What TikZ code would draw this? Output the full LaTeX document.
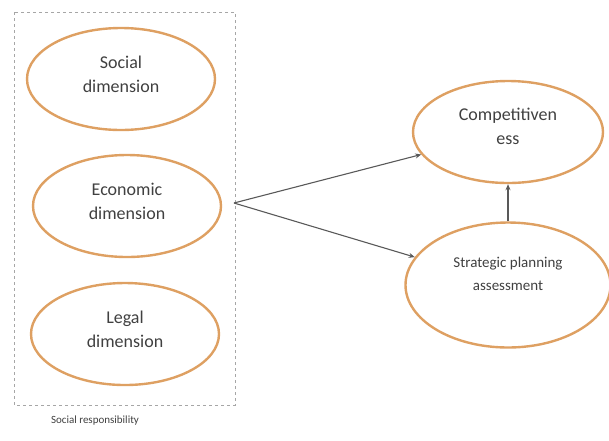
\documentclass[tikz,border=0pt]{standalone}
\usepackage{fontspec}
\setmainfont{Carlito}
\usepackage{tikz}
\usetikzlibrary{shapes.geometric,arrows.meta}

\definecolor{ovalline}{RGB}{222,160,98}
\definecolor{txtgray}{RGB}{64,64,64}

\begin{document}
\begin{tikzpicture}[x=1pt,y=-1pt,
    oval/.style={ellipse, draw=ovalline, line width=2.4pt, inner sep=0pt,
        minimum width=188pt, minimum height=102pt, align=center, text=txtgray,
        text depth=10pt, font=\fontsize{18}{24}\selectfont},
    link/.style={draw=black!65, line width=1.1pt, -{Stealth[length=6pt,width=5pt]}}]
            \useasboundingbox (0,0) rectangle (609,440);
            \draw[gray!70, dashed, line width=0.6pt] (14,12) rectangle (235,405);
            \node[oval] (social) at (121,79) {Social\\dimension};
            \node[oval] (economic) at (127,206) {Economic\\dimension};
            \node[oval] (legal) at (125,334) {Legal\\dimension};
            \node[text=txtgray, font=\fontsize{11}{13}\selectfont] (sr) at (95,421) {Social responsibility};
            \node[oval, minimum width=190pt, text depth=12pt] (comp) at (508,132) {Competitiven\\ess};
            \node[oval, minimum width=205pt, minimum height=125pt, text depth=22pt, font=\fontsize{15}{23}\selectfont] (strat) at (508,285) {Strategic planning\\assessment};
            \coordinate (src) at (234,203);
            \draw[link] (src) -- (comp);
            \draw[link] (src) -- (strat);
            \draw[link] (strat) -- (comp);
        \end{tikzpicture}
\end{document}
